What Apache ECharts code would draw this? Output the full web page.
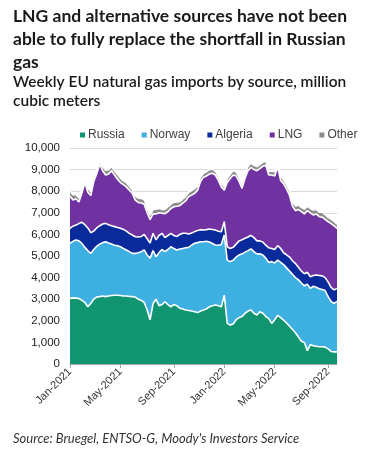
<!DOCTYPE html>
<html>
<head>
<meta charset="utf-8">
<script src="https://cdn.jsdelivr.net/npm/echarts@6/dist/echarts.min.js"></script>
<style>
html,body{margin:0;padding:0;background:#fff;}
#chart{width:378px;height:450px;}
</style>
</head>
<body>
<div id="chart"></div>
<script>
// ---- data (million cubic meters per week) ----
const firstWeek = '2021-01-01';
const seriesNames = ['Russia', 'Norway', 'Algeria', 'LNG', 'Other'];
const seriesColors = ['#119470', '#3DAFE1', '#082A9A', '#7032A0', '#8D8D8D'];
const xTickLabels = ['Jan-2021', 'May-2021', 'Sep-2021', 'Jan-2022', 'May-2022', 'Sep-2022'];
const yTicks = [0, 1000, 2000, 3000, 4000, 5000, 6000, 7000, 8000, 9000, 10000];

const russia = [3040,3060,3050,3030,2950,2850,2650,2800,3000,3100,3120,3150,3120,3150,3170,3180,3180,3170,3150,3150,3130,3120,
  3100,3000,2950,2850,2500,2050,2800,3000,2700,2750,2880,2750,2650,2750,2700,2580,2550,2500,2480,2450,2420,2380,2450,
  2500,2550,2650,2700,2730,2700,2650,3190,1880,1800,1850,2050,2150,2200,2350,2450,2500,2350,2270,2420,2350,2200,2100,
  1880,2050,2250,2150,2030,1900,1750,1600,1450,1250,1050,1000,620,900,850,820,800,800,780,700,580,560,560];
const norway = [2550,2620,2690,2670,2630,2550,2600,2320,2300,2350,2430,2470,2540,2450,2390,2320,2300,2260,2200,2130,2070,2000,
  2020,2150,2250,2430,2550,2850,2450,1970,2450,2550,2320,2550,2780,2600,2580,2740,2800,2880,2920,3050,3170,3240,3210,
  3160,3130,3000,2880,2780,2800,2880,2780,2930,2940,2950,2900,2900,2900,2830,2800,2830,2850,2830,2680,2700,2700,2600,
  2860,2630,2560,2550,2570,2550,2550,2550,2550,2650,2700,2620,3080,2600,2750,2730,2680,2650,2620,2420,2320,2250,2340];
const algeria = [690,700,690,800,980,1050,1050,960,850,850,850,860,850,850,840,860,840,850,880,870,850,850,
  770,730,700,720,750,700,800,780,800,750,650,650,620,600,620,680,700,670,620,560,540,560,560,
  540,540,600,650,690,650,590,620,620,610,600,600,650,650,640,630,630,650,600,600,600,600,680,
  610,620,670,650,550,600,650,630,650,580,550,560,550,540,500,570,620,630,600,680,650,620,600];
const lng = [1500,1210,1220,1000,1340,1950,1650,1720,2300,2500,2850,2470,2240,2350,2550,2390,2230,2120,2070,2050,2000,1930,
  1700,1600,1550,1400,1200,1080,900,1200,1050,930,1110,1100,1150,1330,1400,1330,1400,1500,1730,1760,1770,1870,2230,
  2450,2480,2550,2600,2550,2350,2080,1460,2970,3240,3350,3150,2750,2380,2780,3070,3140,3150,3250,3350,3500,3700,3370,
  3400,3400,3650,3150,3200,3050,2850,2520,2450,2670,2750,2770,2850,2960,2800,2830,2720,2720,2700,2790,2950,2970,2780];
const other = [220,250,200,180,150,160,200,180,150,170,150,200,220,200,180,200,220,200,180,200,180,170,
  180,200,220,200,230,210,200,220,200,180,200,220,200,210,200,180,190,200,200,210,220,200,190,
  180,200,210,190,180,170,160,150,180,200,210,190,180,170,190,200,210,200,190,180,190,200,180,
  190,200,200,190,180,200,210,200,220,210,200,220,210,200,230,220,210,230,220,200,210,200,190];

// ---- weekly categories ----
const DAY = 86400000;
const start = Date.parse(firstWeek + 'T00:00:00Z');
const weekTimes = russia.map((_, i) => start + i * 7 * DAY);
const weeks = weekTimes.map(t => new Date(t).toISOString().slice(0, 10));
const values = [russia, norway, algeria, lng, other];

// label positions: the week nearest to the first day of each labelled month
const MONTHS = ['Jan','Feb','Mar','Apr','May','Jun','Jul','Aug','Sep','Oct','Nov','Dec'];
const labelAt = {};
xTickLabels.forEach(lbl => {
  const [mon, yr] = lbl.split('-');
  const t = Date.UTC(+yr, MONTHS.indexOf(mon), 1);
  let best = 0;
  weekTimes.forEach((w, i) => { if (Math.abs(w - t) < Math.abs(weekTimes[best] - t)) best = i; });
  labelAt[best] = lbl;
});
const isLabelled = (idx) => labelAt[idx] !== undefined;

const chart = echarts.init(document.getElementById('chart'), null, {renderer: 'canvas'});

chart.setOption({
  animation: false,
  backgroundColor: '#ffffff',
  title: [
    {text: 'LNG and alternative sources have not been\nable to fully replace the shortfall in Russian\ngas',
     left: 13, top: 5, padding: 0,
     textStyle: {fontFamily: 'Lato', fontWeight: 'bold', fontSize: 17.5, lineHeight: 23, color: '#1a1a1a'}},
    {text: 'Weekly EU natural gas imports by source, million\ncubic meters',
     left: 13, top: 72, padding: 0,
     textStyle: {fontFamily: 'Lato', fontWeight: 600, fontSize: 15.5, lineHeight: 19, color: '#1a1a1a'}},
    {text: 'Source: Bruegel, ENTSO-G, Moody\'s Investors Service',
     left: 13, top: 431, padding: 0,
     textStyle: {fontFamily: 'Lato', fontStyle: 'italic', fontWeight: 'normal', fontSize: 13, lineHeight: 16, color: '#333'}}
  ],
  legend: {
    data: seriesNames,
    left: 80, top: 129, padding: 0,
    icon: 'rect', itemWidth: 5, itemHeight: 5, itemGap: 17,
    textStyle: {fontFamily: 'Liberation Sans, Arial', fontSize: 12, color: '#404040', padding: [0, 0, 0, -2]}
  },
  grid: {left: 70, right: 41, top: 148, bottom: 86},
  xAxis: {
    type: 'category', data: weeks, boundaryGap: false,
    splitLine: {show: false},
    axisLine: {lineStyle: {color: '#A6A6A6', width: 1}},
    axisTick: {show: true, length: 4, lineStyle: {color: '#A6A6A6'}, interval: isLabelled},
    axisLabel: {
      interval: isLabelled,
      rotate: 45, fontSize: 11, color: '#333', fontFamily: 'Liberation Sans, Arial', margin: 6,
      formatter: (v, idx) => labelAt[idx] || ''
    }
  },
  yAxis: {
    type: 'value', min: yTicks[0], max: yTicks[yTicks.length - 1], interval: 1000,
    axisLine: {show: false}, axisTick: {show: false},
    splitLine: {lineStyle: {color: '#D9D9D9', width: 1}},
    axisLabel: {fontSize: 11.5, color: '#222', fontFamily: 'Liberation Sans, Arial', margin: 10,
      formatter: v => v.toLocaleString('en-US')}
  },
  series: seriesNames.map((name, k) => ({
    name, type: 'line', stack: 'total',
    z: 10 - k,
    symbol: 'none', showSymbol: false,
    color: seriesColors[k],
    itemStyle: {color: seriesColors[k]},
    lineStyle: {color: '#ffffff', width: 1.6},
    areaStyle: {color: seriesColors[k], opacity: 1},
    data: values[k]
  }))
});
</script>
</body>
</html>
